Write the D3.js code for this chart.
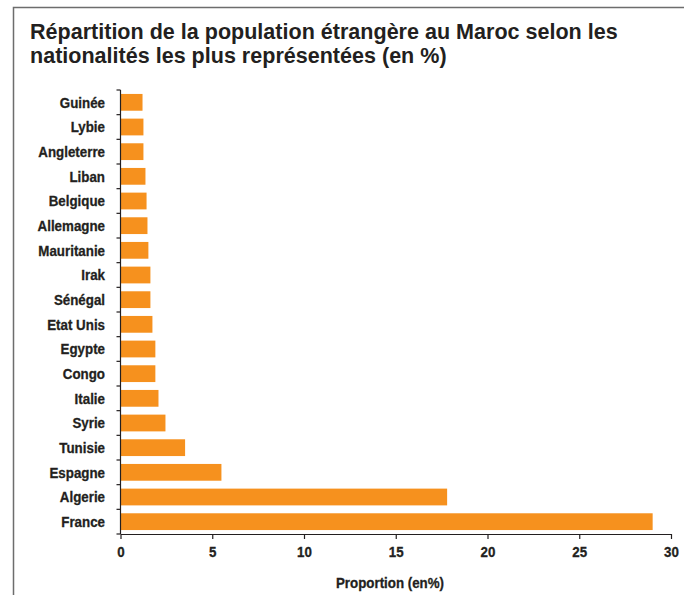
<!DOCTYPE html>
<html>
<head>
<meta charset="utf-8">
<script src="https://cdn.jsdelivr.net/npm/d3@7"></script>
<style>
  body { margin: 0; background: #fff; }
  svg { display: block; }
  .lbl, .title { font-family: "Liberation Sans", Arial, sans-serif; font-weight: bold; fill: #231f20; }
  .lbl { stroke: #231f20; stroke-width: 0.3px; }
</style>
</head>
<body>
<svg id="chart" width="684" height="595"></svg>
<script>
// Values (per cent of foreign population)
const countries = ['Guinée', 'Lybie', 'Angleterre', 'Liban', 'Belgique', 'Allemagne', 'Mauritanie',
  'Irak', 'Sénégal', 'Etat Unis', 'Egypte', 'Congo', 'Italie', 'Syrie', 'Tunisie', 'Espagne',
  'Algerie', 'France'];
const shares = [1.2, 1.25, 1.25, 1.36, 1.42, 1.47, 1.52, 1.63, 1.63, 1.74, 1.9, 1.9, 2.07, 2.45,
  3.52, 5.5, 17.8, 29.0];
const xTicks = [0, 5, 10, 15, 20, 25, 30];
const titleLines = ['Répartition de la population étrangère au Maroc selon les',
  'nationalités les plus représentées (en %)'];

const svg = d3.select('#chart');
const ink = '#231f20';
const SQUEEZE = 0.92; // condensed look of the original typeface
const FS = 14.5;

// ── Frame (top + left rules only) ─────────────────────────────────
svg.append('path')
  .attr('d', 'M13.5,595V7.5H684')
  .attr('fill', 'none')
  .attr('stroke', '#6d6d6d')
  .attr('stroke-width', 1.5);

// ── Title ─────────────────────────────────────────────────────────
const title = svg.append('text').attr('class', 'title').attr('font-size', 22);
titleLines.forEach((t, i) => {
  title.append('tspan').attr('x', 0).attr('y', i * 24).text(t);
});
const tw = title.select('tspan').node().getComputedTextLength();
title.attr('transform', `translate(30,39) scale(${588 / tw},1)`);

// ── Scales ────────────────────────────────────────────────────────
const x = d3.scaleLinear().domain([0, 30]).range([120.5, 671]);
const y = d3.scaleBand().domain(countries).range([90, 534]).paddingInner(0.32).paddingOuter(0.16);

// ── Bars ──────────────────────────────────────────────────────────
svg.append('g')
  .selectAll('rect')
  .data(countries.map((c, i) => ({ c, v: shares[i] })))
  .join('rect')
    .attr('x', x(0))
    .attr('y', d => y(d.c))
    .attr('width', d => x(d.v) - x(0))
    .attr('height', y.bandwidth())
    .attr('fill', '#f6911e');

// ── Y axis: line, boundary ticks, labels ──────────────────────────
const step = y.step();
const bounds = countries.map(c => y(c) - step * y.paddingInner() / 2);
bounds.push(y.range()[1]);

const yg = svg.append('g');
yg.append('line')
  .attr('x1', x(0)).attr('x2', x(0))
  .attr('y1', y.range()[0]).attr('y2', y.range()[1])
  .attr('stroke', ink).attr('stroke-width', 1.2);
yg.selectAll('.btick')
  .data(bounds)
  .join('line')
    .attr('x1', x(0) - 4).attr('x2', x(0))
    .attr('y1', d => d).attr('y2', d => d)
    .attr('stroke', ink).attr('stroke-width', 1.2);
yg.selectAll('.lbl')
  .data(countries)
  .join('text')
    .attr('class', 'lbl')
    .style('font-size', FS + 'px')
    .attr('text-anchor', 'end')
    .attr('transform', d => `translate(105,${y(d) + y.bandwidth() / 2}) scale(${SQUEEZE},1)`)
    .attr('dy', '0.36em')
    .text(d => d);

// ── X axis ────────────────────────────────────────────────────────
const xg = svg.append('g').attr('transform', `translate(0,${y.range()[1]})`)
  .call(d3.axisBottom(x).tickValues(xTicks).tickSize(5).tickSizeOuter(0).tickPadding(6));
xg.select('.domain').attr('stroke', ink).attr('stroke-width', 1.2);
xg.selectAll('.tick line').attr('stroke', ink).attr('stroke-width', 1.2);
xg.selectAll('.tick text')
  .attr('class', 'lbl')
  .style('font-size', FS + 'px')
  .attr('fill', ink)
  .attr('y', 0)
  .attr('dy', null)
  .attr('transform', `translate(0,23) scale(${SQUEEZE},1)`);

svg.append('text')
  .attr('class', 'lbl')
  .style('font-size', FS + 'px')
  .attr('text-anchor', 'middle')
  .attr('transform', `translate(390,588) scale(${SQUEEZE},1)`)
  .text('Proportion (en%)');
</script>
</body>
</html>
